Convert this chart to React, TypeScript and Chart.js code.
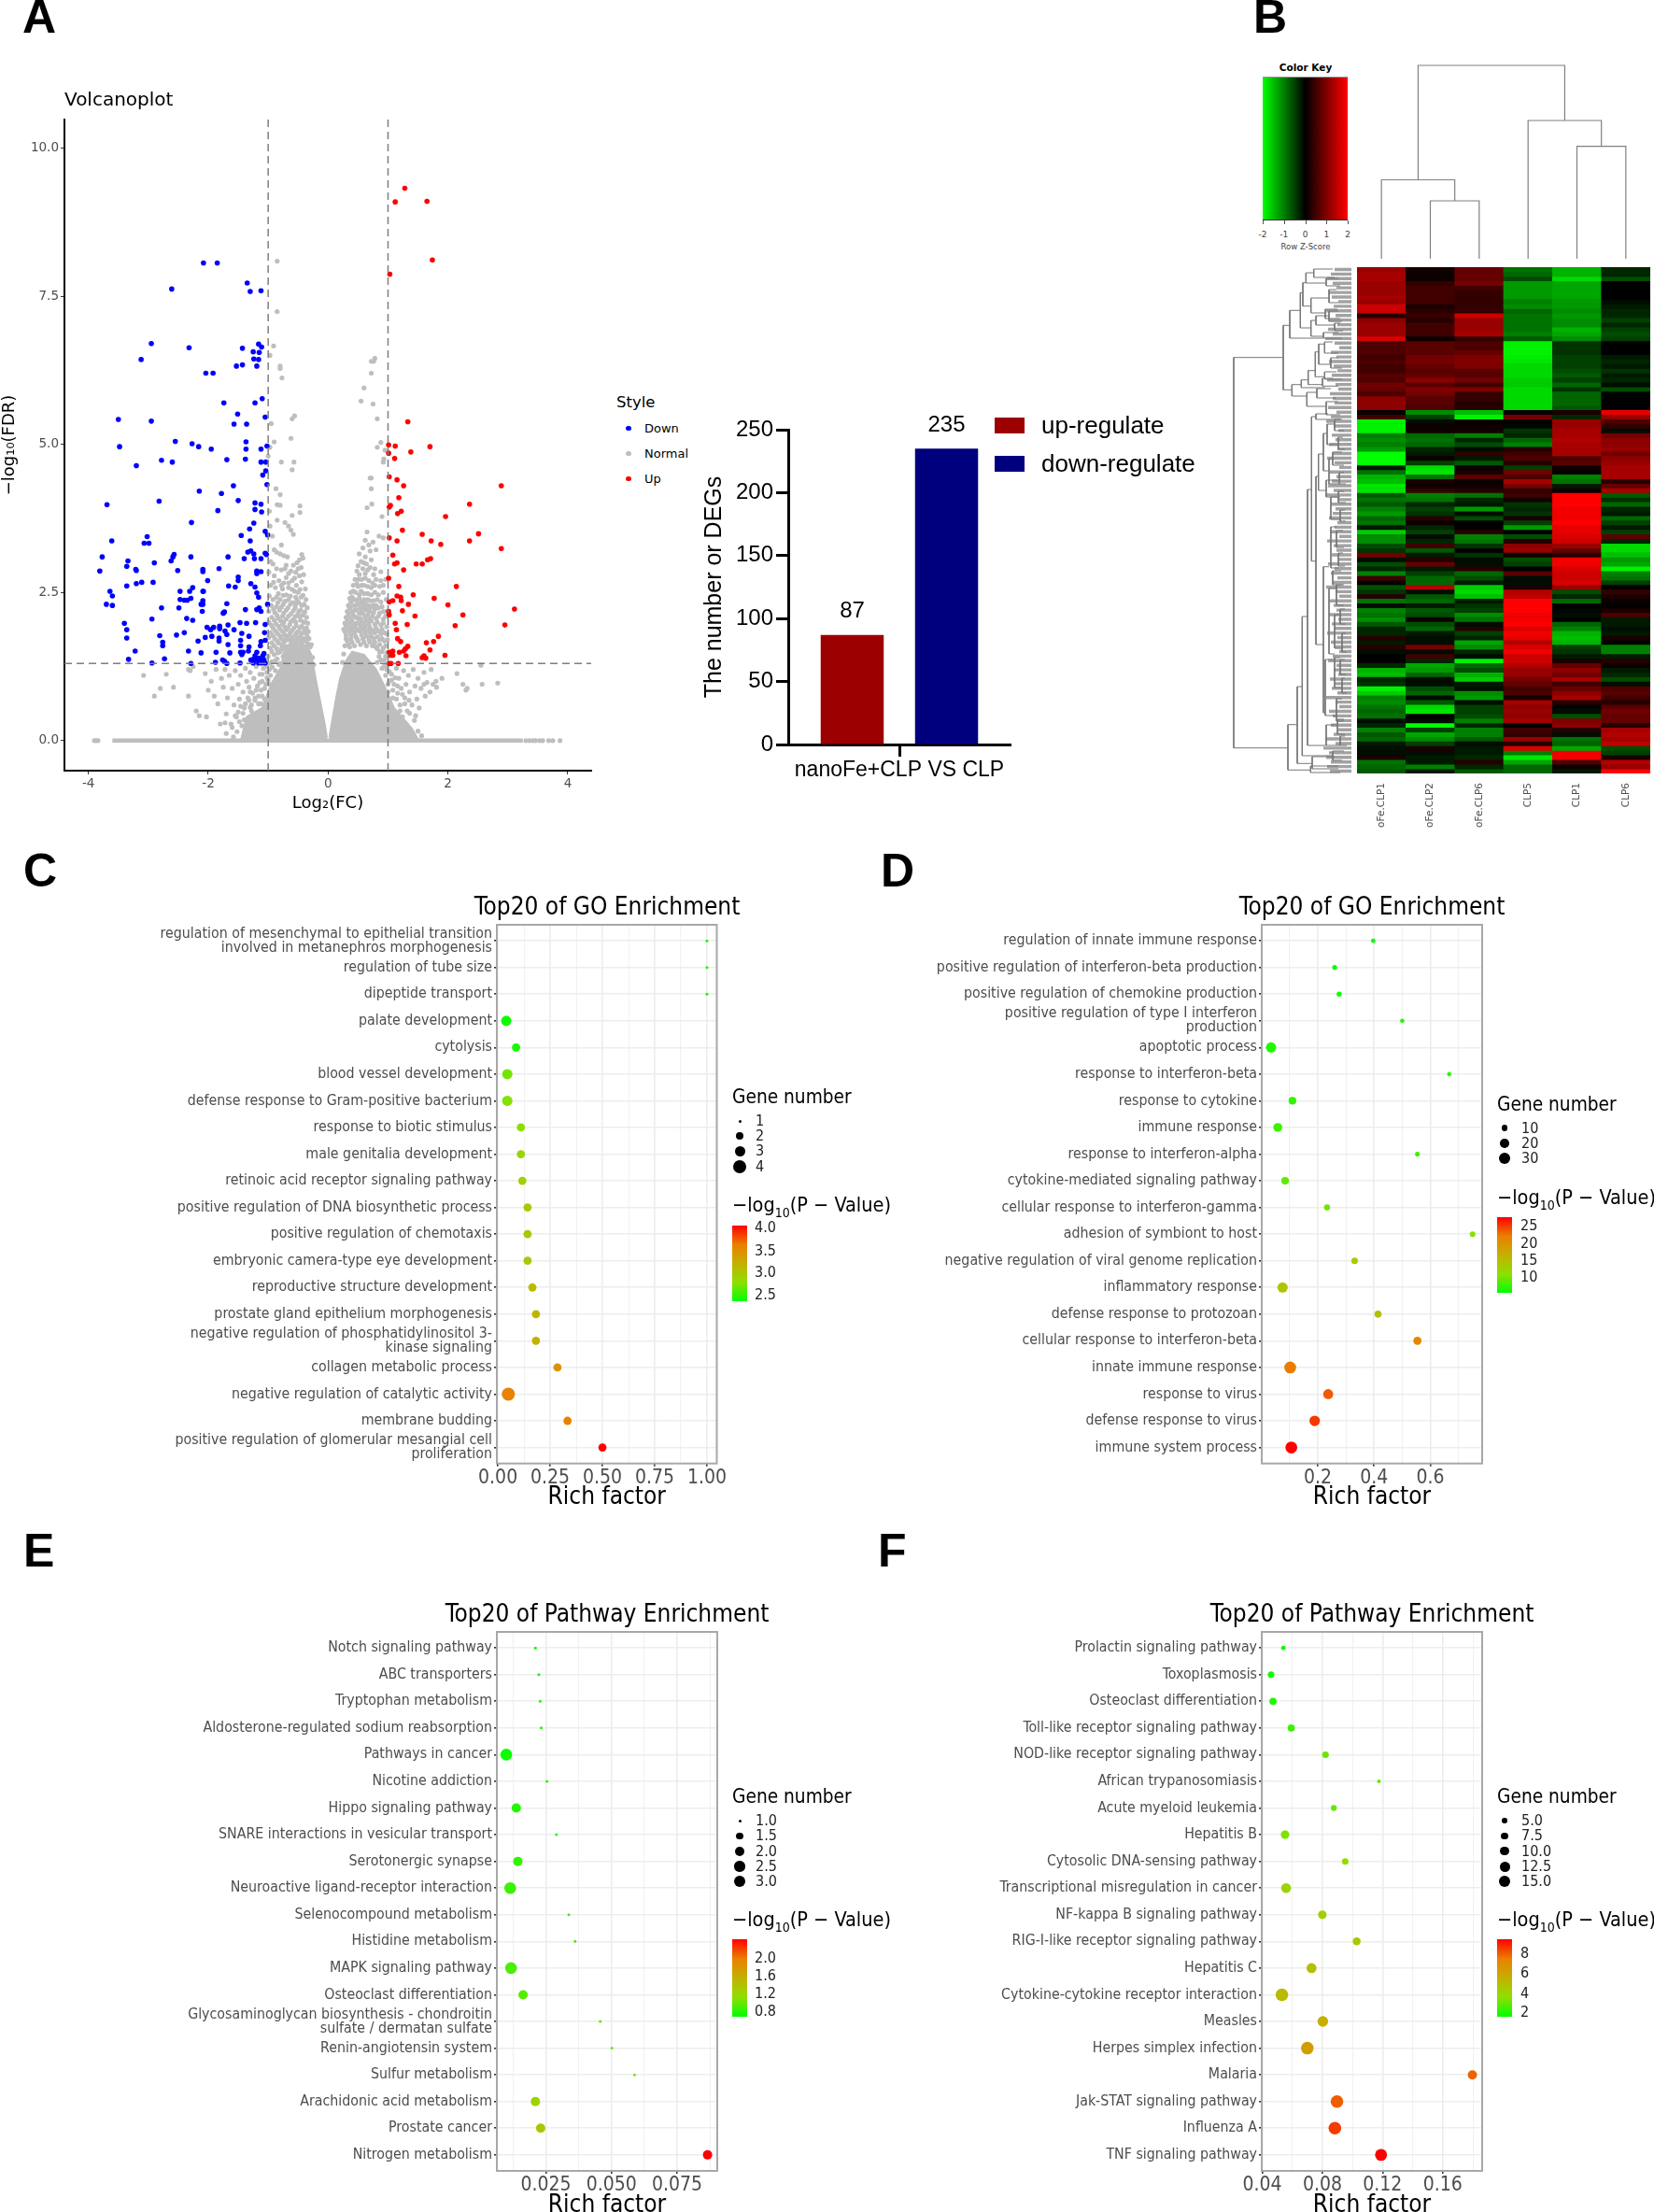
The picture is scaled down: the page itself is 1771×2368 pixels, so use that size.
import React, { useEffect, useRef } from "react";
import { Chart, registerables } from "chart.js";
Chart.register(...registerables);

const NARROW = '"DejaVu Sans Condensed","Liberation Sans Narrow","Roboto",sans-serif';
const DEJAVU = '"DejaVu Sans",sans-serif';
const ARIAL = '"Liberation Sans",Arial,sans-serif';

/* ---------- A: volcano ---------- */
const downPoints = [
[-2.08,8.06],[-1.85,8.06],[-2.61,7.62],[-1.35,7.72],[-1.30,7.58],[-1.12,7.59],[-2.95,6.70],[-2.32,6.63],[-3.12,6.43],[-1.43,6.62],[-1.16,6.69],[-1.11,6.64],[-1.25,6.56],[-1.15,6.55],[-1.24,6.44],[-1.16,6.43],[-1.19,6.32],[-1.53,6.32],[-1.43,6.34],[-2.04,6.20],[-1.92,6.20],[-1.10,5.77],[-1.22,5.70],[-1.74,5.70],[-1.51,5.51],[-1.05,5.46],[-3.50,5.42],[-2.95,5.39],[-1.57,5.34],[-1.36,5.34],[-2.55,5.05],[-1.37,5.04],[-2.27,5.01],[-3.48,4.96],[-2.16,4.96],[-1.95,4.92],[-1.37,4.92],[-1.12,4.92],[-1.02,4.97],[-1.38,4.75],[-2.78,4.73],[-2.60,4.70],[-1.69,4.74],[-1.12,4.70],[-1.04,4.70],[-3.20,4.64],[-1.04,4.55],[-1.09,4.48],[-1.58,4.30],[-1.02,4.32],[-2.15,4.21],[-1.78,4.17],[-2.82,4.04],[-1.50,4.05],[-3.69,3.98],[-1.22,4.01],[-1.12,3.99],[-1.22,3.90],[-1.84,3.88],[-1.11,3.86],[-2.28,3.68],[-1.24,3.67],[-1.31,3.57],[-1.05,3.53],[-1.45,3.46],[-3.02,3.44],[-1.01,3.47],[-3.61,3.37],[-1.30,3.37],[-3.07,3.33],[-2.99,3.33],[-1.29,3.20],[-1.34,3.18],[-1.24,3.15],[-1.05,3.16],[-2.57,3.14],[-3.77,3.10],[-2.59,3.10],[-2.29,3.10],[-1.67,3.10],[-1.40,3.07],[-1.23,3.07],[-1.12,3.07],[-1.03,3.14],[-2.62,3.03],[-3.34,3.03],[-2.90,3.00],[-3.36,2.94],[-3.21,2.89],[-3.20,2.87],[-2.09,2.89],[-1.82,2.90],[-2.51,2.87],[-3.81,2.86],[-2.09,2.85],[-1.19,2.86],[-1.12,2.85],[-1.19,2.82],[-1.50,2.76],[-2.01,2.70],[-1.50,2.70],[-2.92,2.67],[-3.11,2.67],[-3.20,2.65],[-1.29,2.65],[-3.36,2.61],[-1.66,2.61],[-1.55,2.59],[-1.22,2.59],[-2.26,2.58],[-3.64,2.52],[-2.47,2.52],[-2.31,2.52],[-2.09,2.52],[-2.08,2.52],[-1.19,2.49],[-1.16,2.42],[-3.60,2.44],[-2.47,2.38],[-2.29,2.40],[-2.40,2.37],[-2.35,2.37],[-2.09,2.36],[-3.70,2.30],[-3.60,2.28],[-2.12,2.30],[-2.09,2.30],[-1.69,2.31],[-1.01,2.30],[-2.78,2.24],[-2.49,2.24],[-1.38,2.21],[-1.19,2.21],[-1.15,2.24],[-2.10,2.18],[-1.75,2.15],[-1.73,2.17],[-1.12,2.18],[-2.94,2.05],[-2.36,2.06],[-2.26,2.03],[-3.40,1.98],[-1.47,1.99],[-1.36,1.98],[-1.21,1.99],[-3.36,1.87],[-2.02,1.91],[-1.91,1.91],[-1.81,1.93],[-1.67,1.95],[-1.05,1.96],[-1.96,1.87],[-1.81,1.89],[-1.72,1.85],[-1.57,1.87],[-1.06,1.82],[-1.44,1.81],[-2.53,1.78],[-2.40,1.82],[-2.81,1.77],[-2.05,1.74],[-1.94,1.76],[-1.82,1.73],[-1.69,1.79],[-1.32,1.76],[-3.36,1.73],[-2.17,1.68],[-1.82,1.68],[-2.76,1.66],[-1.46,1.69],[-1.12,1.67],[-1.05,1.69],[-1.67,1.62],[-2.76,1.60],[-1.46,1.60],[-1.13,1.60],[-1.32,1.58],[-3.22,1.51],[-2.33,1.51],[-2.12,1.48],[-1.87,1.49],[-1.64,1.48],[-1.46,1.49],[-1.42,1.49],[-1.33,1.51],[-1.19,1.49],[-1.07,1.47],[-1.44,1.45],[-3.33,1.37],[-2.73,1.38],[-1.76,1.36],[-1.22,1.43],[-1.16,1.39],[-1.25,1.37],[-1.09,1.43],[-1.73,1.34],[-1.88,1.32],[-1.47,1.31],[-2.94,1.31],[-2.29,1.30],[-1.69,1.30],[-1.29,1.36],[-1.19,1.36],[-1.13,1.36],[-1.07,1.36],[-1.25,1.31],[-1.16,1.31],[-1.11,1.31],[-1.05,1.31]];
const upPoints = [
[1.28,9.32],[1.12,9.09],[1.65,9.10],[1.74,8.11],[1.03,7.87],[1.33,5.38],[1.01,4.99],[1.12,4.97],[1.70,4.96],[1.38,4.87],[1.01,4.85],[1.11,4.76],[1.02,4.45],[1.15,4.40],[1.26,4.30],[2.89,4.30],[1.18,4.10],[2.36,3.99],[1.04,3.97],[1.02,3.94],[1.22,3.87],[1.16,3.83],[1.96,3.78],[1.24,3.55],[2.51,3.49],[1.57,3.48],[1.02,3.42],[2.36,3.37],[1.72,3.37],[1.15,3.37],[1.88,3.31],[2.89,3.24],[1.08,3.13],[1.71,3.07],[1.66,3.05],[1.15,3.00],[1.11,2.98],[1.47,2.98],[1.57,2.98],[1.26,2.88],[1.01,2.74],[2.14,2.60],[1.18,2.60],[1.42,2.46],[1.15,2.44],[1.77,2.40],[1.21,2.42],[1.08,2.36],[1.22,2.36],[1.02,2.34],[1.34,2.30],[2.00,2.29],[3.11,2.22],[1.01,2.18],[1.24,2.19],[2.25,2.12],[1.02,2.12],[1.45,2.10],[1.12,1.98],[1.32,1.96],[2.12,1.94],[2.95,1.95],[1.14,1.87],[1.84,1.76],[1.16,1.72],[1.76,1.67],[1.21,1.67],[1.64,1.65],[1.33,1.59],[1.29,1.55],[1.26,1.51],[1.08,1.51],[1.02,1.49],[1.70,1.53],[1.19,1.49],[1.08,1.44],[1.04,1.44],[1.95,1.44],[1.30,1.43],[1.60,1.43],[1.57,1.40],[1.63,1.39],[1.02,1.30],[1.17,1.30],[1.05,1.30]];
const normalLeft = [
[-0.85,8.09],[-0.85,7.24],[-0.91,6.66],[-0.97,6.5],[-0.8,6.32],[-0.8,6.28],[-0.77,6.12],[-0.56,5.48],[-0.6,5.43],[-0.95,5.35],[-0.97,4.95],[-0.9,5.04],[-0.62,5.1],[-1.0,4.8],[-0.78,4.7],[-0.57,4.7],[-0.6,4.57],[-0.87,4.25],[-0.8,4.15],[-0.98,3.87],[-0.85,3.98],[-0.8,3.97],[-0.47,3.96],[-0.47,3.85],[-0.6,3.8],[-0.85,3.72],[-0.72,3.68],[-0.66,3.62],[-0.62,3.55],[-0.58,3.48],[-0.93,3.45],[-0.97,3.62],[-0.78,3.3],[-0.9,3.22],[-0.86,3.18],[-0.8,3.15],[-0.74,3.12],[-0.68,3.1],[-0.44,3.14],[-0.42,3.08],[-0.48,3.05],[-0.52,3.0],[-0.96,3.02],[-0.92,2.98],[-0.7,2.96],[-0.86,2.9],[-0.78,2.88],[-0.62,2.86],[-0.45,2.92],[-0.99,2.84],[-0.9,2.78],[-0.7,2.75],[-0.56,2.74],[-0.48,2.78],[-0.82,2.7],[-0.66,2.66],[-0.53,2.62],[-0.96,2.62],[-0.88,2.58],[-0.76,2.56],[-0.6,2.55],[-0.47,2.55],[-0.83,2.48],[-0.7,2.46],[-0.63,2.44],[-0.54,2.42],[-0.42,2.45],[-0.98,2.44],[-0.92,2.38],[-0.8,2.38],[-0.72,2.35],[-0.59,2.33],[-0.49,2.33],[-0.4,2.3],[-0.95,2.28],[-0.86,2.26],[-0.78,2.25],[-0.67,2.24],[-0.55,2.24],[-0.46,2.2],[-0.99,2.18],[-0.89,2.16],[-0.74,2.15],[-0.62,2.14],[-0.51,2.12],[-0.42,2.12],[-0.94,2.08],[-0.83,2.06],[-0.7,2.05],[-0.58,2.04],[-0.46,2.03],[-0.38,2.0],[-0.99,2.0],[-0.87,1.97],[-0.76,1.96],[-0.64,1.96],[-0.53,1.94],[-0.44,1.93],[-0.36,1.9],[-0.92,1.9],[-0.8,1.88],[-0.7,1.87],[-0.6,1.86],[-0.5,1.84],[-0.4,1.83],[-0.96,1.82],[-0.84,1.8],[-0.73,1.79],[-0.65,1.78],[-0.55,1.78],[-0.46,1.76],[-0.35,1.75],[-0.99,1.74],[-0.89,1.72],[-0.78,1.72],[-0.68,1.71],[-0.58,1.7],[-0.49,1.7],[-0.38,1.68],[-0.94,1.65],[-0.82,1.64],[-0.76,1.6],[-0.86,1.55],[-0.96,1.56],[-0.8,1.5],[-0.9,1.45],[-1.0,1.42],[-0.85,1.38],[-0.94,1.33],[-0.8,1.3],
[-3.08,1.1],[-2.9,0.75],[-2.8,0.88],[-2.7,1.12],[-2.58,0.9],[-2.33,1.2],[-2.3,1.18],[-2.33,0.75],[-2.25,1.25],[-2.2,0.5],[-2.15,0.42],[-2.05,1.13],[-2.03,0.4],[-2.0,0.85],[-1.95,1.0],[-1.9,0.75],[-1.87,1.2],[-1.84,0.62],[-1.8,0.28],[-1.78,1.05],[-1.75,0.9],[-1.72,1.2],[-1.7,0.45],[-1.68,0.72],[-1.65,1.1],[-1.62,0.28],[-1.6,0.88],[-1.57,0.6],[-1.55,1.18],[-1.53,0.4],[-1.5,0.95],[-1.48,0.7],[-1.46,1.1],[-1.44,0.25],[-1.42,0.82],[-1.4,0.55],[-1.38,1.22],[-1.36,1.0],[-1.34,0.72],[-1.32,0.9],[-1.3,1.15],[-1.28,0.6],[-1.26,0.8],[-1.24,1.05],[-1.22,0.68],[-1.2,1.25],[-1.18,0.92],[-1.16,0.75],[-1.14,1.12],[-1.12,0.85],[-1.1,1.0],[-1.08,1.22],[-1.06,0.7],[-1.04,0.95],[-1.02,1.15],[-1.0,1.02],[-0.98,1.2],[-0.96,1.1],[-1.12,0.62],[-1.28,0.5],[-1.5,0.48],[-1.72,0.3],[-1.25,0.42],[-1.4,0.35]];
const normalLeftFill = [
[-0.72,2.9],[-0.58,2.96],[-0.5,2.9],[-0.66,2.82],[-0.54,2.84],[-0.41,2.8],[-0.74,2.66],[-0.6,2.7],[-0.44,2.68],[-0.91,2.67],[-0.78,2.62],[-0.66,2.58],[-0.5,2.5],[-0.38,2.56],[-0.86,2.42],[-0.75,2.45],[-0.56,2.52],[-0.45,2.42],[-0.66,2.38],[-0.52,2.37],[-0.37,2.38],[-0.84,2.33],[-0.75,2.3],[-0.63,2.3],[-0.54,2.3],[-0.44,2.28],[-0.35,2.24],[-0.91,2.22],[-0.81,2.2],[-0.7,2.2],[-0.58,2.19],[-0.49,2.18],[-0.39,2.17],[-0.85,2.11],[-0.76,2.1],[-0.66,2.1],[-0.55,2.09],[-0.47,2.09],[-0.36,2.08],[-0.9,2.03],[-0.79,2.02],[-0.74,2.0],[-0.62,2.01],[-0.54,2.0],[-0.41,2.0],[-0.34,1.98],[-0.95,1.95],[-0.83,1.93],[-0.72,1.92],[-0.67,1.9],[-0.57,1.9],[-0.47,1.9],[-0.39,1.88],[-0.33,1.84],[-0.88,1.85],[-0.76,1.84],[-0.63,1.82],[-0.53,1.81],[-0.44,1.81],[-0.36,1.8],[-0.92,1.77],[-0.8,1.76],[-0.7,1.74],[-0.61,1.74],[-0.51,1.73],[-0.42,1.72],[-0.32,1.72],[-0.85,1.68],[-0.74,1.66],[-0.62,1.67],[-0.53,1.66],[-0.44,1.66],[-0.34,1.64],[-0.9,1.6],[-0.78,1.55],[-0.84,1.48],[-0.94,1.5],[-0.75,1.42],[-0.88,1.35],[-0.98,1.3],[-0.82,1.28],[-0.93,1.24],[-1.04,1.25],[-0.88,1.18],[-1.02,1.06],[-1.1,1.12],[-0.98,0.95],[-1.14,0.98],[-1.06,0.88],[-1.2,0.85],[-1.3,0.82],[-1.1,0.75],[-1.22,0.72],[-1.32,0.68],[-1.16,0.62],[-1.38,0.62],[-1.46,0.58],[-1.3,0.56],[-1.42,0.46],[-1.55,0.42],[-1.48,0.32],[-1.6,0.22],[-1.52,0.15],[-1.7,0.12],[-1.58,0.06],[-0.72,1.68],[-0.62,1.7],[-0.3,1.58],[-0.28,1.62],[-0.26,1.4],[-0.24,1.28],[-0.68,1.3]];
const normalRight = [
[0.78,6.45],[0.72,6.4],[0.76,6.4],[0.72,6.2],[0.6,5.95],[0.55,5.73],[0.75,5.68],[0.82,5.43],[0.88,5.03],[0.82,4.95],[0.95,4.9],[0.93,4.75],[0.92,4.7],[0.7,4.43],[0.72,4.43],[0.72,4.25],[0.65,3.93],[0.73,3.99],[0.9,3.78],[0.85,3.45],[0.92,3.42],[0.65,3.52],[0.62,3.38],[0.68,3.3],[0.75,3.35],[0.58,3.25],[0.7,3.2],[0.8,3.22],[0.52,3.15],[0.62,3.1],[0.55,3.02],[0.64,2.98],[0.5,2.95],[0.58,2.9],[0.7,2.92],[0.48,2.86],[0.52,2.8],[0.62,2.82],[0.76,2.8],[0.88,2.85],[0.45,2.72],[0.56,2.72],[0.68,2.7],[0.8,2.72],[0.96,2.72],[0.42,2.62],[0.5,2.6],[0.6,2.62],[0.72,2.58],[0.86,2.6],[0.38,2.5],[0.46,2.5],[0.55,2.52],[0.66,2.48],[0.78,2.5],[0.92,2.5],[0.36,2.4],[0.44,2.38],[0.52,2.4],[0.6,2.38],[0.7,2.36],[0.82,2.38],[0.97,2.38],[0.34,2.28],[0.42,2.28],[0.5,2.3],[0.58,2.28],[0.66,2.28],[0.72,2.26],[0.8,2.28],[0.9,2.26],[0.32,2.18],[0.4,2.18],[0.48,2.2],[0.56,2.18],[0.64,2.2],[0.7,2.18],[0.76,2.16],[0.86,2.15],[0.98,2.18],[0.3,2.08],[0.38,2.08],[0.46,2.08],[0.54,2.06],[0.62,2.08],[0.7,2.06],[0.8,2.06],[0.92,2.05],[0.28,1.98],[0.36,1.98],[0.44,1.96],[0.52,1.98],[0.6,1.96],[0.68,1.96],[0.78,1.96],[0.88,1.95],[0.98,1.92],[0.26,1.88],[0.34,1.88],[0.42,1.88],[0.5,1.86],[0.58,1.88],[0.66,1.86],[0.74,1.86],[0.84,1.85],[0.94,1.82],[0.3,1.78],[0.38,1.78],[0.46,1.76],[0.56,1.78],[0.64,1.76],[0.72,1.76],[0.82,1.75],[0.9,1.72],[0.99,1.7],[0.32,1.68],[0.4,1.66],[0.5,1.68],[0.6,1.66],[0.7,1.66],[0.78,1.66],[0.86,1.62],[0.96,1.6],[0.82,1.55],[0.9,1.5],[0.98,1.48],[0.85,1.42],[0.94,1.36],[0.82,1.32],
[2.3,0.85],[2.32,0.88],[2.25,0.95],[2.55,1.27],[2.57,0.95],[2.83,0.97],[2.15,1.13],[1.8,1.0],[1.81,0.9],[1.9,1.05],[1.6,1.15],[1.62,0.75],[1.65,0.98],[1.7,0.82],[1.72,1.2],[1.52,0.55],[1.55,0.88],[1.5,1.05],[1.48,0.7],[1.45,0.92],[1.42,1.2],[1.4,0.6],[1.38,0.12],[1.36,0.82],[1.34,1.1],[1.32,0.5],[1.3,0.95],[1.28,0.72],[1.26,1.18],[1.24,0.4],[1.22,0.88],[1.2,0.6],[1.18,1.05],[1.16,0.8],[1.14,1.22],[1.12,0.48],[1.1,0.95],[1.08,0.72],[1.06,1.12],[1.04,0.55],[1.02,1.0],[1.0,0.82],[0.98,1.2],[1.0,1.28],[0.96,1.1],[1.18,0.4],[1.3,0.28],[1.46,0.42],[1.75,0.95],[1.6,0.95],[1.35,0.68]];
const normalRightFill = [
[0.6,3.0],[0.72,3.05],[0.66,2.88],[0.78,2.9],[0.5,2.72],[0.62,2.74],[0.74,2.66],[0.88,2.7],[0.48,2.64],[0.56,2.62],[0.66,2.6],[0.78,2.62],[0.92,2.62],[0.42,2.52],[0.52,2.46],[0.6,2.48],[0.72,2.46],[0.84,2.46],[0.4,2.42],[0.48,2.36],[0.56,2.34],[0.66,2.38],[0.76,2.36],[0.88,2.34],[0.38,2.34],[0.46,2.28],[0.54,2.24],[0.62,2.32],[0.74,2.28],[0.84,2.24],[0.36,2.24],[0.44,2.2],[0.52,2.14],[0.6,2.24],[0.68,2.22],[0.78,2.22],[0.92,2.18],[0.34,2.14],[0.42,2.12],[0.5,2.06],[0.58,2.14],[0.66,2.12],[0.74,2.1],[0.84,2.1],[0.96,2.1],[0.32,2.04],[0.4,2.02],[0.48,1.98],[0.56,2.02],[0.64,2.02],[0.72,2.02],[0.82,2.0],[0.92,1.98],[0.3,1.94],[0.38,1.92],[0.46,1.9],[0.54,1.92],[0.62,1.92],[0.7,1.9],[0.8,1.9],[0.9,1.88],[0.28,1.84],[0.36,1.84],[0.44,1.82],[0.54,1.84],[0.62,1.82],[0.7,1.82],[0.78,1.82],[0.88,1.8],[0.98,1.8],[0.3,1.72],[0.38,1.72],[0.48,1.72],[0.58,1.72],[0.68,1.7],[0.76,1.72],[0.86,1.7],[0.94,1.68],[0.34,1.62],[0.44,1.6],[0.54,1.62],[0.64,1.6],[0.74,1.6],[0.8,1.58],[0.92,1.56],[0.86,1.5],[0.96,1.42],[0.88,1.36],[0.94,1.26],[1.02,1.16],[0.9,1.22],[1.06,1.02],[1.12,1.06],[1.0,0.95],[1.16,0.92],[1.08,0.85],[1.24,0.78],[1.14,0.7],[1.28,0.62],[1.2,0.5],[1.36,0.46],[1.44,0.34],[1.34,0.2],[1.5,0.16],[1.56,0.08],[0.26,1.46],[0.24,1.32],[0.28,1.6],[0.36,1.58]];
const coreLeft = [[-1.45,0.02],[-1.36,0.4],[-1.1,0.55],[-0.95,0.95],[-0.78,1.25],[-0.72,1.6],[-0.55,1.65],[-0.35,1.6],[-0.28,1.45],[-0.2,1.0],[-0.12,0.6],[-0.06,0.3],[-0.02,0.05]];
const coreRight = [[0.02,0.05],[0.07,0.35],[0.14,0.75],[0.2,1.05],[0.3,1.35],[0.4,1.5],[0.6,1.45],[0.8,1.2],[0.95,0.9],[1.1,0.55],[1.4,0.2],[1.5,0.02]];
const zeroLine = [[-3.6,0],[3.25,0]];
const zeroEnds = [-3.9,-3.87,-3.84,3.3,3.36,3.42,3.46,3.53,3.58,3.68,3.75,3.87];
const volcanoXTicks = [-4,-2,0,2,4];
const volcanoYTicks = [0,2.5,5,7.5,10];
const foldCut = [-1,1];
const fdrCut = 1.3;

/* ---------- A2: DEG bars ---------- */
const degCategory = ["nanoFe+CLP VS CLP"];
const degUp = [87];
const degDown = [235];

/* ---------- B: heat map ---------- */
const heatSamples = ["oFe.CLP1","oFe.CLP2","oFe.CLP6","CLP5","CLP1","CLP6"];
const zNano1 = [1.2,1.3,1.3,1.2,1.2,1.2,1.3,1.2,1.6,1.6,.3,1.1,1.2,1.2,1.2,1.7,.6,.6,.6,.5,.6,.5,.5,.7,.6,.9,.8,.6,1.1,1.1,1.1,.05,.5,-1.9,-1.9,-1.9,-1,-1.1,-1,-1.2,-2,-2,-2,-.2,-.9,-1.4,-1.5,-1.8,-1.8,-.7,-.9,-.7,-1,-1.2,-.8,
-.9,-.2,-1.6,-1.1,-1.1,-.6,-.4,.9,-.1,-.6,-.3,-1,.5,.05,-.6,-.4,.3,-.9,-.1,-1,-.9,-1.1,-.7,-.3,-.3,.3,-.2,.3,-.1,0,0,-.3,-1.4,-1.5,-.3,-.4,-1.9,-1.6,-1,-1.1,-.9,-.8,-.9,-.1,-.3,-1,-.7,-.8,-.2,-.1,-.1,.2,-.9,-.8,-.7];
const zNano2 = [.15,.1,.1,.4,.5,.5,.5,.5,.2,.35,.45,.3,.5,.5,.5,.1,.7,.7,.7,.9,.9,.8,.7,.8,1.1,.7,1,.9,.7,.7,.6,-1.1,-.5,-.1,.1,.1,-.8,-.9,-.8,-.3,-.2,.1,-.5,-1.7,-1.8,-.9,.2,.1,.4,-1,-.9,-.3,-.5,-.4,.3,
.1,-.3,-.5,-.1,-.3,.5,-.7,-.2,.3,.8,-.2,-.5,-.8,-.8,1.4,-.1,-.7,-.8,-.2,-.7,-.6,.1,-.6,-.8,-.2,-.1,-.1,.9,-.1,.5,-.3,-1.3,-1.2,-.8,-.1,-.1,-.6,-.8,-.1,-.7,-1.7,-1.8,.05,-.1,-2,-.5,-1.3,-1.1,-.5,.2,-.1,-.2,-.2,-1,-.2];
const zNano6 = [.8,.8,.8,.9,.5,.4,.4,.4,.4,.4,1.6,1.2,1.2,1.2,1.3,.4,.6,.6,.8,1,1,1,.7,.7,.9,.5,1,.4,.4,.3,.3,-1.5,-1.9,.05,.1,.15,-1,-.3,-.6,-.1,.4,-.2,-.7,.1,.2,.7,.1,.1,.3,-.9,-.3,-.2,-1.2,-.1,-.6,
0,0,.3,-1,-.9,-.4,0,-.4,-.1,-.1,.3,-.8,-.6,-.2,-1.6,-1.7,-1.5,-.2,-.4,-.5,-1.1,-.9,-.1,.3,-.5,-.3,-1.3,-1.1,-.3,-.1,-1.9,-.8,-.6,-1.4,-1.6,-.2,-.1,-1.1,-1.2,-.1,-.5,-.5,-.6,-1,-.3,-1,-1,-.7,-.1,-.2,-.2,-.3,.3,-.3,-.7];
const zClp5 = [-.9,-.8,-.6,-1.2,-1.2,-1.2,-1.2,-1,-1.1,-.8,-.9,-.9,-.9,-.9,-1,-.7,-1.9,-1.9,-1.9,-1.85,-1.8,-1.7,-1.7,-1.7,-1.6,-1.6,-1.7,-1.7,-1.7,-1.7,-1.7,.05,.9,.05,-.05,-.4,-.3,-.8,-1,.3,.5,.6,.3,-.5,.9,.6,1.3,.9,.4,.5,.15,-.4,-.3,-.4,.2,
-.5,-1.2,0,-.6,.3,1.1,1.2,.1,-.6,-.5,0,.7,-.1,-.1,.2,1.4,1.5,2,2,2,1.9,1.9,2,1.7,1.9,1.8,1.4,1.7,1.9,1.6,1.6,1.4,1.2,1.2,.9,.8,.5,.6,.2,1.3,1.1,1.2,1.1,1.3,0,.5,.4,1.2,.3,1.7,-1,-1.8,-1.3,-.8,-.8];
const zClp1 = [-1.4,-1.4,-1.7,-1.3,-1.3,-1.3,-1.3,-1.2,-1.2,-1.1,-1.2,-1.1,-1.1,-1.4,-1.3,-1.1,-.4,-.4,-.4,-.5,-.5,-.5,-.6,-.7,-.5,-.8,-.4,-.8,-.8,-.8,-.7,.2,-.3,1.2,1.2,1.3,1.3,1.4,1.3,1.3,1.3,.6,.7,.1,.05,-1,-.9,-.2,.1,2,2,2,1.9,1.9,1.9,
2,1.8,1.8,1.7,1.6,1.2,.8,.3,1.9,1.9,1.7,1.6,1.6,1.7,1.2,-.6,-.3,-.8,0,-.05,-.1,0,-.8,-1,-1.4,-1.5,-1.4,-.5,-.4,-.2,.2,.8,1.1,.9,1.3,.5,.8,1.1,1.3,.3,-.05,-.1,-.6,1,1.1,.3,-.1,-.9,-.8,-1.3,1.9,1.9,.6,.1,-.2];
const zClp6 = [-.3,-.3,-.6,0,0,0,0,-.1,-.2,-.3,-.3,-.5,-.3,-.5,-.6,-.5,0,0,0,-.2,-.3,-.2,-.4,-.2,-.3,-.1,-.6,-.05,0,0,0,1.8,1.2,.6,.4,-.1,.9,1.1,1.1,1.2,.9,1.1,1.2,1.3,1.3,1.3,.3,.8,1.3,-.7,-.4,-.8,-.3,-.2,-.8,
-.5,-.2,-.5,.7,-.3,-1.7,-1.7,-1.5,-1.2,-1.3,-1.9,-1,-.9,-.5,0,.4,.2,.1,0,.2,.6,-.2,-.2,-.1,-.2,.2,0,-1,-1,-.2,.3,.1,-.2,-.3,-.6,-.1,.6,.7,.5,.3,.7,.9,.8,.8,.3,1.3,1.4,1.3,1.5,-.6,-.5,.2,1.4,1.2,2];
const heatColumns = [zNano1,zNano2,zNano6,zClp5,zClp1,zClp6];
const leafDepth = [18,22,26,20,16,24,21,14,19,27,17,23,15,25,20,28,18,13,22,16,24,19,15,21,26,17,14,23,20,18,25,16,22,27,19,14,21,17,24,15,20,26,18,13,23,16,21,25,19,28,14,22,17,20,24,15,18,23,13,26,19,16,21,14,25,18,22,15,20,27,17,13,23,19,16,24,14,21,18,26,15,22,17,13,20,25,16,19,14,23,18,21,15,27,17,13,24,20,16,22,14,19,28,17,30,24,27,22,26,23];
/* [merge height, row from, row to, child height at from, child height at to] */
const rowMerges = [
[126,96.7,514.7,73,68],[73,62.3,131.3,66,63.7],[66,46.3,76,54.7,30.3],[54.7,27.3,65,52,43.3],[52,16.7,41.7,48.7,43.3],[48.7,6,17,40.3,27],[40.3,2,11,20,18],[27,12,20,14,12],[43.3,33,49,24,28],[24,24,38,16,14],[28,45,55,15,12],[43.3,57,74,38,30],[38,52,62,24,18],[24,47,58,14,10],[18,60,68,12,9],[30,70,76,14,10],
[63.7,125.7,138,53.7,47.7],[53.7,120.7,129,46.3,28],[46.3,110.7,125.7,38.7,31],[38.7,90.7,117.3,35,28.7],[35,82.3,104,28.7,22],[28.7,80,92,20,14],[22,97,108,14,10],[28.7,112,120,16,10],[31,119,127.3,20,14],[47.7,134,149,37,27],[37,130,140,22,16],[27,144,158,14,12],
[68,489.7,538.3,58,43.7],[58,449,531.3,52.7,42],[52.7,374,523,47,20],[47,238,512,42.7,27],[42.7,160,314.7,38,38],[38,157,163,25,12],[38,224,404,35.3,30],[35.3,200,239,30,27],[30,178,218,26,24],[26,168,190,18,14],[24,205,232,20,13],[18,163,175,10,8],[14,182,195,9,7],[20,198,212,10,8],[13,220,232,8,6],[27,228,246,14,12],
[30,320.7,477,24,28],[22,246,270,14,12],[14,240,252,8,6],[12,260,272,7,6],[22,278,322,16,14],[16,282,300,9,8],[14,306,320,9,7],[20,325,340,11,8],[24,344,414,16,18],[16,340,362,10,8],[18,372,408,12,10],[12,366,382,7,6],[10,392,412,6,5],[28,420,480,18,16],[18,418,450,12,10],[12,420,436,7,6],[10,440,456,7,5],[16,462,486,10,8],[27,490,512,15,12],[15,484,500,8,7],[12,502,512,7,5],[20,518,528,8,10],[42,524,537,18,14],[43.7,534,541,14,12]];
const colMerges = [[62,1.5,2.5,0,0],[84.5,0.5,2,0,62],[120.4,4.5,5.5,0,0],[148,3.5,5,0,120.4],[207,1.25,4.25,84.5,148]];
const keyTicks = ["-2","-1","0","1","2"];

/* ---------- C ---------- */
const cTerms = [["regulation of mesenchymal to epithelial transition","involved in metanephros morphogenesis"],"regulation of tube size","dipeptide transport","palate development","cytolysis","blood vessel development","defense response to Gram-positive bacterium","response to biotic stimulus","male genitalia development","retinoic acid receptor signaling pathway","positive regulation of DNA biosynthetic process","positive regulation of chemotaxis","embryonic camera-type eye development","reproductive structure development","prostate gland epithelium morphogenesis",["negative regulation of phosphatidylinositol 3-","kinase signaling"],"collagen metabolic process","negative regulation of catalytic activity","membrane budding",["positive regulation of glomerular mesangial cell","proliferation"]];
const cRich = [1,1,1,0.04,0.087,0.045,0.045,0.11,0.11,0.117,0.142,0.142,0.142,0.165,0.182,0.182,0.285,0.05,0.333,0.5];
const cGenes = [1,1,1,3,2,3,3,2,2,2,2,2,2,2,2,2,2,4,2,2];
const cLogP = [2.36,2.36,2.36,2.4,2.42,2.7,2.75,2.8,2.85,2.9,2.95,3,3,3.1,3.15,3.2,3.45,3.6,3.6,4.05];
const cXTicks = [0,0.25,0.5,0.75,1];
const cXMinor = [0.125,0.375,0.625,0.875];
const cGeneKeys = [1,2,3,4];
const cPKeys = [4,3.5,3,2.5];

/* ---------- D ---------- */
const dTerms = ["regulation of innate immune response","positive regulation of interferon-beta production","positive regulation of chemokine production",["positive regulation of type I interferon","production"],"apoptotic process","response to interferon-beta","response to cytokine","immune response","response to interferon-alpha","cytokine-mediated signaling pathway","cellular response to interferon-gamma","adhesion of symbiont to host","negative regulation of viral genome replication","inflammatory response","defense response to protozoan","cellular response to interferon-beta","innate immune response","response to virus","defense response to virus","immune system process"];
const dRich = [0.397,0.26,0.276,0.5,0.034,0.667,0.11,0.058,0.554,0.084,0.233,0.75,0.331,0.075,0.414,0.554,0.102,0.237,0.189,0.106];
const dGenes = [2,4,5,2,25,2,15,20,4,15,9,7,11,25,13,17,31,24,26,31];
const dLogP = [5.3,5.6,5.9,6.2,6.5,7,7.3,7.6,8,9,9.5,10.5,13,14,14.5,21,22,23.5,25,27.4];
const dXTicks = [0.2,0.4,0.6];
const dXMinor = [0.1,0.3,0.5,0.7];
const dGeneKeys = [10,20,30];
const dPKeys = [25,20,15,10];

/* ---------- E ---------- */
const eTerms = ["Notch signaling pathway","ABC transporters","Tryptophan metabolism","Aldosterone-regulated sodium reabsorption","Pathways in cancer","Nicotine addiction","Hippo signaling pathway","SNARE interactions in vesicular transport","Serotonergic synapse","Neuroactive ligand-receptor interaction","Selenocompound metabolism","Histidine metabolism","MAPK signaling pathway","Osteoclast differentiation",["Glycosaminoglycan biosynthesis - chondroitin","sulfate / dermatan sulfate"],"Renin-angiotensin system","Sulfur metabolism","Arachidonic acid metabolism","Prostate cancer","Nitrogen metabolism"];
const eRich = [0.021,0.0223,0.0228,0.0232,0.0099,0.0254,0.0137,0.029,0.0143,0.0114,0.0337,0.0361,0.0117,0.0163,0.0457,0.0501,0.0588,0.021,0.023,0.0866];
const eGenes = [1,1,1,1,3,1,2,1,2,3,1,1,3,2,1,1,1,2,2,2];
const eLogP = [0.68,0.7,0.72,0.75,0.7,0.78,0.78,0.8,0.82,0.85,0.85,0.88,0.9,0.92,0.95,1,1.05,1.2,1.35,2.4];
const eXTicks = [0.025,0.05,0.075];
const eXMinor = [0.0125,0.0375,0.0625,0.0875];
const eGeneKeys = [1,1.5,2,2.5,3];
const ePKeys = [2,1.6,1.2,0.8];

/* ---------- F ---------- */
const fTerms = ["Prolactin signaling pathway","Toxoplasmosis","Osteoclast differentiation","Toll-like receptor signaling pathway","NOD-like receptor signaling pathway","African trypanosomiasis","Acute myeloid leukemia","Hepatitis B","Cytosolic DNA-sensing pathway","Transcriptional misregulation in cancer","NF-kappa B signaling pathway","RIG-I-like receptor signaling pathway","Hepatitis C","Cytokine-cytokine receptor interaction","Measles","Herpes simplex infection","Malaria","Jak-STAT signaling pathway","Influenza A","TNF signaling pathway"];
const fRich = [0.0541,0.0459,0.0472,0.0593,0.0821,0.1176,0.0876,0.0552,0.0952,0.0559,0.08,0.1028,0.0728,0.0531,0.0803,0.07,0.1797,0.0897,0.0883,0.119];
const fGenes = [4,7,8,8,7,3,6,10,7,12,10,9,12,16,13,16,11,16,16,15];
const fLogP = [1.7,1.8,2,2.4,3,3.1,3,3.3,3.6,4,4.2,4.5,4.8,5,5.5,6.2,7.8,7.9,8.4,9.3];
const fXTicks = [0.04,0.08,0.12,0.16];
const fXMinor = [0.06,0.1,0.14,0.18];
const fGeneKeys = [5,7.5,10,12.5,15];
const fPKeys = [8,6,4,2];

const gradStops: number[][] = [[0,0,255,0],[.25,143,223,0],[.5,196,176,0],[.75,234,127,0],[1,255,0,0]];
const gradCss = "linear-gradient(to top,#00ff00,#8fdf00 25%,#c4b000 50%,#ea7f00 75%,#ff0000)";
function gradColor(t: number) {
  const v = Math.max(0, Math.min(1, t));
  for (let i = 1; i < gradStops.length; i++) {
    if (v <= gradStops[i][0]) {
      const a = gradStops[i-1], b = gradStops[i], f = (v-a[0])/(b[0]-a[0]);
      return `rgb(${a[1]+(b[1]-a[1])*f},${a[2]+(b[2]-a[2])*f},${a[3]+(b[3]-a[3])*f})`;
    }
  }
  return "rgb(255,0,0)";
}
function heatColor(z: number) {
  const v = Math.min(255, Math.round(Math.abs(z) / 2 * 255));
  return z >= 0 ? `rgb(${v},0,0)` : `rgb(0,${v},0)`;
}
const pins = (w: number | null, h: number | null) => ({
  afterFit(s: any) {
    if (w !== null) s.width = w;
    if (h !== null) s.height = h;
    s.paddingLeft = 0; s.paddingRight = 0; s.paddingTop = 0; s.paddingBottom = 0;
  },
});
const setTicks = (vals: number[]) => ({ afterBuildTicks(s: any) { s.ticks = vals.map((value) => ({ value })); } });
const frame = (color: string) => ({
  id: "frame",
  afterDatasetsDraw(c: any) {
    const a = c.chartArea, x = c.ctx;
    x.save(); x.strokeStyle = color; x.lineWidth = 2;
    x.strokeRect(a.left, a.top, a.right - a.left, a.bottom - a.top); x.restore();
  },
});
const common = { responsive: false, devicePixelRatio: 1, animation: false, events: [] as string[] };

function ChartBox({ left, top, width, height, config }: any) {
  const ref = useRef<HTMLCanvasElement>(null);
  useEffect(() => {
    const c = new Chart(ref.current as any, config());
    return () => c.destroy();
  }, []);
  return <canvas ref={ref} width={width} height={height} style={{ position: "absolute", left, top, width, height }} />;
}
function Txt({ x, y, children, size, font = NARROW, color = "#000", weight = "normal", align = "left", rotate }: any) {
  const tx = align === "center" ? "-50%" : align === "right" ? "-100%" : "0";
  return <div style={{ position: "absolute", left: x, top: y, fontFamily: font, fontSize: size, color, fontWeight: weight, lineHeight: 1, whiteSpace: "nowrap", transform: `translate(${tx},-50%)${rotate ? ` rotate(${rotate}deg)` : ""}` }}>{children}</div>;
}

function volcanoConfig() {
  const pts = (a: number[][]) => a.map(([x, y]) => ({ x, y }));
  const dash = { type: "line", borderColor: "#7f7f7f", borderWidth: 1.5, borderDash: [8, 5], pointRadius: 0, showLine: true, order: 0 };
  const dot = (color: string, order: number, r = 2.8) => ({ backgroundColor: color, borderWidth: 0, pointRadius: r, order });
  return {
    type: "scatter",
    data: { datasets: [
      { ...dash, label: "cut-", data: [{ x: foldCut[0], y: -0.508 }, { x: foldCut[0], y: 10.48 }] },
      { ...dash, label: "cut+", data: [{ x: foldCut[1], y: -0.508 }, { x: foldCut[1], y: 10.48 }] },
      { ...dash, label: "fdr", data: [{ x: -4.4, y: fdrCut }, { x: 4.39, y: fdrCut }] },
      { label: "Down", data: pts(downPoints), ...dot("#0000ff", 1) },
      { label: "Up", data: pts(upPoints), ...dot("#ff0000", 1) },
      { label: "Normal", data: pts(normalLeft), ...dot("#bebebe", 2, 2.6) },
      { label: "Normal", data: pts(normalLeftFill), ...dot("#bebebe", 2, 2.6) },
      { label: "Normal", data: pts(normalRight), ...dot("#bebebe", 2, 2.6) },
      { label: "Normal", data: pts(normalRightFill), ...dot("#bebebe", 2, 2.6) },
      { label: "Normal", data: zeroEnds.map((x) => ({ x, y: 0 })), ...dot("#bebebe", 2, 2.6) },
      { label: "Normal", type: "line", data: pts(zeroLine), borderColor: "#bebebe", borderWidth: 4.5, pointRadius: 0, showLine: true, order: 3 },
      { label: "Normal", type: "line", data: pts(coreLeft), borderColor: "#bebebe", borderWidth: 2, backgroundColor: "#bebebe", fill: "origin", pointRadius: 0, showLine: true, order: 3 },
      { label: "Normal", type: "line", data: pts(coreRight), borderColor: "#bebebe", borderWidth: 2, backgroundColor: "#bebebe", fill: "origin", pointRadius: 0, showLine: true, order: 3 },
    ] },
    options: {
      ...common,
      layout: { padding: { left: 0, right: 27, top: 0, bottom: 0 } },
      plugins: {
        legend: { display: false }, tooltip: { enabled: false },
        title: { display: true, text: "Volcanoplot", align: "start", fullSize: false, color: "#000", font: { family: DEJAVU, size: 20, weight: "normal", lineHeight: 1.2 }, padding: { top: 4.5, bottom: 8.5 } },
      },
      scales: {
        x: { type: "linear", min: -4.4, max: 4.39, ...pins(null, 46), ...setTicks(volcanoXTicks),
          grid: { drawOnChartArea: false, tickLength: 4, tickColor: "#333" }, border: { color: "#000", width: 2 },
          ticks: { autoSkip: false, maxRotation: 0, color: "#4d4d4d", padding: 2, font: { family: DEJAVU, size: 13.5 } },
          title: { display: true, text: "Log₂(FC)", color: "#000", padding: 0, font: { family: DEJAVU, size: 18 } } },
        y: { type: "linear", min: -0.508, max: 10.48, ...pins(69, null), ...setTicks(volcanoYTicks),
          grid: { drawOnChartArea: false, tickLength: 4, tickColor: "#333" }, border: { color: "#000", width: 2 },
          ticks: { autoSkip: false, color: "#4d4d4d", padding: 2, callback: (v: number) => v.toFixed(1), font: { family: DEJAVU, size: 13.5 } },
          title: { display: true, text: "−log₁₀(FDR)", color: "#000", padding: 0, font: { family: DEJAVU, size: 18 } } },
      },
    },
  };
}

const barLabels = {
  id: "barLabels",
  afterDatasetsDraw(c: any) {
    const x = c.ctx;
    x.save(); x.fillStyle = "#000"; x.font = `24px ${ARIAL}`; x.textAlign = "center"; x.textBaseline = "middle";
    c.data.datasets.forEach((d: any, i: number) => {
      const el = c.getDatasetMeta(i).data[0];
      x.fillText(String(d.data[0]), el.x, el.y - 25);
    });
    x.restore();
  },
};
function barConfig() {
  return {
    type: "bar",
    data: { labels: degCategory, datasets: [
      { label: "up-regulate", data: degUp, backgroundColor: "#9c0000" },
      { label: "down-regulate", data: degDown, backgroundColor: "#00007f" },
    ] },
    options: {
      ...common,
      layout: { padding: { left: 0, right: 18, top: 30, bottom: 0 } },
      datasets: { bar: { categoryPercentage: 0.849, barPercentage: 0.668 } },
      plugins: { legend: { display: false }, tooltip: { enabled: false } },
      scales: {
        x: { ...pins(null, 53), grid: { offset: false, drawOnChartArea: false, tickLength: 13, tickWidth: 3, tickColor: "#000" }, border: { color: "#000", width: 3 },
          ticks: { color: "#000", padding: 1, maxRotation: 0, font: { family: ARIAL, size: 23 } } },
        y: { min: 0, max: 250, ...pins(114, null), ...setTicks([0,50,100,150,200,250]), grid: { drawOnChartArea: false, tickLength: 13, tickWidth: 3, tickColor: "#000" }, border: { color: "#000", width: 3 },
          ticks: { color: "#000", padding: 3, font: { family: ARIAL, size: 24 } },
          title: { display: true, text: "The number or DEGs", color: "#000", padding: { top: 20, bottom: 0 }, font: { family: ARIAL, size: 25 } } },
      },
    },
    plugins: [barLabels],
  };
}

const heatBack = { id: "heatBack", beforeDatasetsDraw(c: any) { const a = c.chartArea; c.ctx.save(); c.ctx.fillStyle = "#000"; c.ctx.fillRect(a.left, a.top, a.right-a.left, a.bottom-a.top); c.ctx.restore(); } };
function heatConfig() {
  const rows = zNano1.length;
  const datasets = [];
  for (let r = 0; r < rows; r++) {
    datasets.push({ label: `gene ${r+1}`, data: heatSamples.map(() => 1), backgroundColor: heatColumns.map((col) => heatColor(Number(col[r] ?? 0))), borderWidth: 0, barPercentage: 1, categoryPercentage: 1 });
  }
  return {
    type: "bar",
    data: { labels: heatSamples, datasets },
    options: {
      ...common,
      layout: { padding: 0 },
      plugins: { legend: { display: false }, tooltip: { enabled: false } },
      scales: {
        x: { stacked: true, ...pins(null, 62), grid: { display: false }, border: { display: false },
          ticks: { minRotation: 90, maxRotation: 90, padding: 2, color: "#4d4d4d", font: { family: DEJAVU, size: 10.5 } } },
        y: { stacked: true, reverse: true, min: 0, max: rows, display: false },
      },
    },
    plugins: [heatBack],
  };
}
function bracketPath(m: number[][], vertical: boolean) {
  const out: any[] = [];
  const p = (h: number, r: number) => (vertical ? { x: r, y: h } : { x: h, y: r });
  m.forEach(([h, a, b, ha, hb]) => {
    out.push(p(ha, a), p(h, a), p(h, b), p(hb, b), { x: NaN, y: NaN });
  });
  return out;
}
function rowDendroConfig() {
  const rowPx = 542 / zNano1.length;
  const leaves: any[] = [];
  leafDepth.forEach((d, i) => { leaves.push({ x: d, y: (i+.5)*rowPx }, { x: 0, y: (i+.5)*rowPx }, { x: NaN, y: NaN }); });
  return {
    type: "scatter",
    data: { datasets: [
      { label: "merges", data: bracketPath(rowMerges, false), showLine: true, borderColor: "#777", borderWidth: 1, pointRadius: 0, spanGaps: false, order: 0 },
      { label: "leaves", data: leaves, showLine: true, borderColor: "#a2a2a2", borderWidth: 3.4, pointRadius: 0, spanGaps: false, order: 1 },
    ] },
    options: { ...common, layout: { padding: 0 }, plugins: { legend: { display: false }, tooltip: { enabled: false } },
      scales: { x: { type: "linear", reverse: true, min: 0, max: 127, display: false }, y: { type: "linear", reverse: true, min: 0, max: 542, display: false } } },
  };
}
function colDendroConfig() {
  return {
    type: "scatter",
    data: { datasets: [{ label: "merges", data: bracketPath(colMerges, true), showLine: true, borderColor: "#808080", borderWidth: 1.2, pointRadius: 0, spanGaps: false }] },
    options: { ...common, layout: { padding: 0 }, plugins: { legend: { display: false }, tooltip: { enabled: false } },
      scales: { x: { type: "linear", min: 0, max: 6, display: false }, y: { type: "linear", min: 0, max: 217, display: false } } },
  };
}

function bubbleConfig(p: any) {
  const ticks = [...p.xTicks, ...p.xMinor].sort((a: number, b: number) => a - b);
  const rowTicks = p.terms.map((_: any, i: number) => i);
  return () => ({
    type: "bubble",
    data: { datasets: [{
      label: p.title,
      data: p.rich.map((x: number, i: number) => ({ x, y: i, r: p.radius(p.genes[i]) })),
      backgroundColor: p.logp.map((v: number) => gradColor((v - p.pMin) / (p.pMax - p.pMin))),
      borderWidth: 0,
    }] },
    options: {
      ...common,
      layout: { padding: 0 },
      plugins: {
        legend: { display: false }, tooltip: { enabled: false },
        title: { display: true, text: p.title, color: "#000", font: { family: NARROW, size: 26, weight: "normal", lineHeight: 1.2 }, padding: { top: p.titleTop, bottom: 2.4 } },
      },
      scales: {
        x: { type: "linear", min: p.xMin, max: p.xMax, ...pins(null, p.xH), ...setTicks(ticks),
          grid: { color: "#ededed", lineWidth: (c: any) => p.xTicks.includes(c.tick?.value) ? 1.6 : 0.8, tickColor: (c: any) => p.xTicks.includes(c.tick?.value) ? "#333" : "transparent", tickLength: 3 },
          border: { display: false },
          ticks: { autoSkip: false, maxRotation: 0, color: "#4d4d4d", padding: 2, callback: (v: number) => p.xTicks.includes(v) ? v.toFixed(p.dec) : "", font: { family: NARROW, size: 21, lineHeight: 1 } },
          title: { display: true, text: "Rich factor", color: "#000", padding: 0, font: { family: NARROW, size: 26, lineHeight: 1.2 } } },
        y: { type: "linear", reverse: true, min: -0.6, max: 19.6, ...pins(p.yW, null), ...setTicks(rowTicks),
          grid: { color: "#ededed", lineWidth: 1.6, tickColor: "#333", tickLength: 3 }, border: { display: false },
          ticks: { autoSkip: false, color: "#4d4d4d", padding: 2, callback: (v: number) => p.terms[v], font: { family: NARROW, size: 15.8, lineHeight: 0.95 } } },
        /* empty right-hand axis, so that the title centres on the plot */
        balance: { type: "linear", position: "right", min: 0, max: 1, ...pins(p.right, null), grid: { display: false }, border: { display: false }, ticks: { display: false } },
      },
    },
    plugins: [frame("#a8a8a8")],
  });
}

function Legends({ x, titleY, keys, keyYs, radius, logY, barY, barH, pKeys, pYs, dotDx, labelDx, barLabelDx, dec, pDec }: any) {
  return <>
    <Txt x={x} y={titleY} size={20.7}>Gene number</Txt>
    {keys.map((k: number, i: number) => <React.Fragment key={k}>
      <div style={{ position: "absolute", left: x + dotDx - radius(k), top: keyYs[i] - radius(k), width: radius(k)*2, height: radius(k)*2, borderRadius: "50%", background: "#000" }} />
      <Txt x={x + labelDx} y={keyYs[i]} size={16} color="#222">{k.toFixed(dec)}</Txt>
    </React.Fragment>)}
    <Txt x={x} y={logY} size={21.5}>−log<sub style={{ fontSize: 14, lineHeight: 0 }}>10</sub>(P − Value)</Txt>
    <div style={{ position: "absolute", left: x, top: barY, width: 16.4, height: barH, background: gradCss }} />
    {pKeys.map((k: number, i: number) => <Txt key={k} x={x + barLabelDx} y={pYs[i]} size={16} color="#222">{k.toFixed(pDec)}</Txt>)}
  </>;
}

const radC = (g: number) => [0, 1.5, 4.4, 5.5, 7][g];
const radD = (g: number) => 2 + 0.14 * g;
const radE = (g: number) => (g <= 1 ? 1.5 : g <= 1.5 ? 3.7 : g <= 2 ? 5 : g <= 2.5 ? 5.6 : 6.3);
const radF = (g: number) => 1 + 0.36 * g;

export default function App() {
  return (
    <div style={{ position: "absolute", left: 0, top: 0, width: 1771, height: 2368, overflow: "hidden", background: "#fff" }}>
      {[["A",24,-7],["B",1342,-7],["C",25,907],["D",943,907],["E",25,1635],["F",940,1635]].map(([t,x,y]: any) =>
        <div key={t} style={{ position: "absolute", left: x, top: y, fontFamily: ARIAL, fontWeight: "bold", fontSize: 50, lineHeight: "50px" }}>{t}</div>)}

      <ChartBox left={0} top={91} width={660} height={780} config={volcanoConfig} />
      <Txt x={660} y={431} size={16.5} font={DEJAVU}>Style</Txt>
      {[["Down","#0000ff",458],["Normal","#bebebe",485],["Up","#ff0000",512]].map(([t,c,y]: any) => <React.Fragment key={t}>
        <div style={{ position: "absolute", left: 670, top: y-2.5, width: 5.5, height: 5.5, borderRadius: "50%", background: c }} />
        <Txt x={690} y={y} size={13} font={DEJAVU}>{t}</Txt>
      </React.Fragment>)}

      <ChartBox left={730} top={430} width={370} height={420} config={barConfig} />
      {[["up-regulate","#9c0000",455],["down-regulate","#00007f",496]].map(([t,c,y]: any) => <React.Fragment key={t}>
        <div style={{ position: "absolute", left: 1065, top: y-8.5, width: 32, height: 17, background: c }} />
        <Txt x={1115} y={y} size={26} font={ARIAL}>{t}</Txt>
      </React.Fragment>)}

      <ChartBox left={1453} top={60} width={314} height={217} config={colDendroConfig} />
      <ChartBox left={1320} top={286} width={127} height={542} config={rowDendroConfig} />
      <ChartBox left={1453} top={286} width={314} height={604} config={heatConfig} />
      <Txt x={1398} y={72} size={10.5} font={DEJAVU} weight="bold" align="center">Color Key</Txt>
      <div style={{ position: "absolute", left: 1352, top: 82, width: 91, height: 154, background: "linear-gradient(to right,#00ff00,#000 50%,#ff0000)", borderTop: "1px solid #999", borderBottom: "1px solid #333", boxSizing: "border-box" }} />
      {keyTicks.map((t, i) => <React.Fragment key={t}>
        <div style={{ position: "absolute", left: 1352 + i*22.75, top: 236, width: 1, height: 4, background: "#555" }} />
        <Txt x={1352 + i*22.75} y={251} size={9} font={DEJAVU} color="#444" align="center">{t}</Txt>
      </React.Fragment>)}
      <Txt x={1398} y={264} size={8.5} font={DEJAVU} color="#444" align="center">Row Z-Score</Txt>

      <ChartBox left={100} top={950} width={1100} height={669} config={bubbleConfig({ title: "Top20 of GO Enrichment", terms: cTerms, rich: cRich, genes: cGenes, logp: cLogP, radius: radC, pMin: 2.36, pMax: 4.05, xMin: -0.005, xMax: 1.047, xTicks: cXTicks, xMinor: cXMinor, dec: 2, yW: 432, right: 432.5, xH: 52.3, titleTop: 6.4 })} />
      <Legends x={784} titleY={1174} keys={cGeneKeys} keyYs={[1200,1216,1232.4,1249]} radius={radC} logY={1290} barY={1311.5} barH={81} pKeys={cPKeys} pYs={[1314,1338.5,1362,1386]} dotDx={8} labelDx={25} barLabelDx={24} dec={0} pDec={1} />

      <ChartBox left={1000} top={950} width={938} height={669} config={bubbleConfig({ title: "Top20 of GO Enrichment", terms: dTerms, rich: dRich, genes: dGenes, logp: dLogP, radius: radD, pMin: 5.3, pMax: 27.4, xMin: 0.0009, xMax: 0.784, xTicks: dXTicks, xMinor: dXMinor, dec: 1, yW: 351, right: 351, xH: 52.3, titleTop: 6.4 })} />
      <Legends x={1603} titleY={1181.6} keys={dGeneKeys} keyYs={[1207.7,1224,1240]} radius={radD} logY={1282} barY={1303} barH={81} pKeys={dPKeys} pYs={[1312,1330.6,1349,1367]} dotDx={8} labelDx={26} barLabelDx={25} dec={0} pDec={0} />

      <ChartBox left={100} top={1705} width={1100} height={672} config={bubbleConfig({ title: "Top20 of Pathway Enrichment", terms: eTerms, rich: eRich, genes: eGenes, logp: eLogP, radius: radE, pMin: 0.67, pMax: 2.4, xMin: 0.0063, xMax: 0.0903, xTicks: eXTicks, xMinor: eXMinor, dec: 3, yW: 432, right: 432, xH: 53, titleTop: 8.4 })} />
      <Legends x={784} titleY={1923} keys={eGeneKeys} keyYs={[1949,1965.4,1981.7,1998,2014]} radius={radE} logY={2055} barY={2076} barH={82.6} pKeys={ePKeys} pYs={[2096,2114.5,2133.5,2152.5]} dotDx={8} labelDx={25} barLabelDx={24} dec={1} pDec={1} />

      <ChartBox left={1000} top={1705} width={938} height={672} config={bubbleConfig({ title: "Top20 of Pathway Enrichment", terms: fTerms, rich: fRich, genes: fGenes, logp: fLogP, radius: radF, pMin: 1.6, pMax: 9.3, xMin: 0.0397, xMax: 0.1862, xTicks: fXTicks, xMinor: fXMinor, dec: 2, yW: 351, right: 351, xH: 53, titleTop: 8.4 })} />
      <Legends x={1603} titleY={1923} keys={fGeneKeys} keyYs={[1949,1965.4,1981.7,1998,2014]} radius={radF} logY={2055} barY={2076} barH={82.6} pKeys={fPKeys} pYs={[2091,2112,2133.5,2154]} dotDx={8} labelDx={26} barLabelDx={25} dec={1} pDec={0} />
    </div>
  );
}
